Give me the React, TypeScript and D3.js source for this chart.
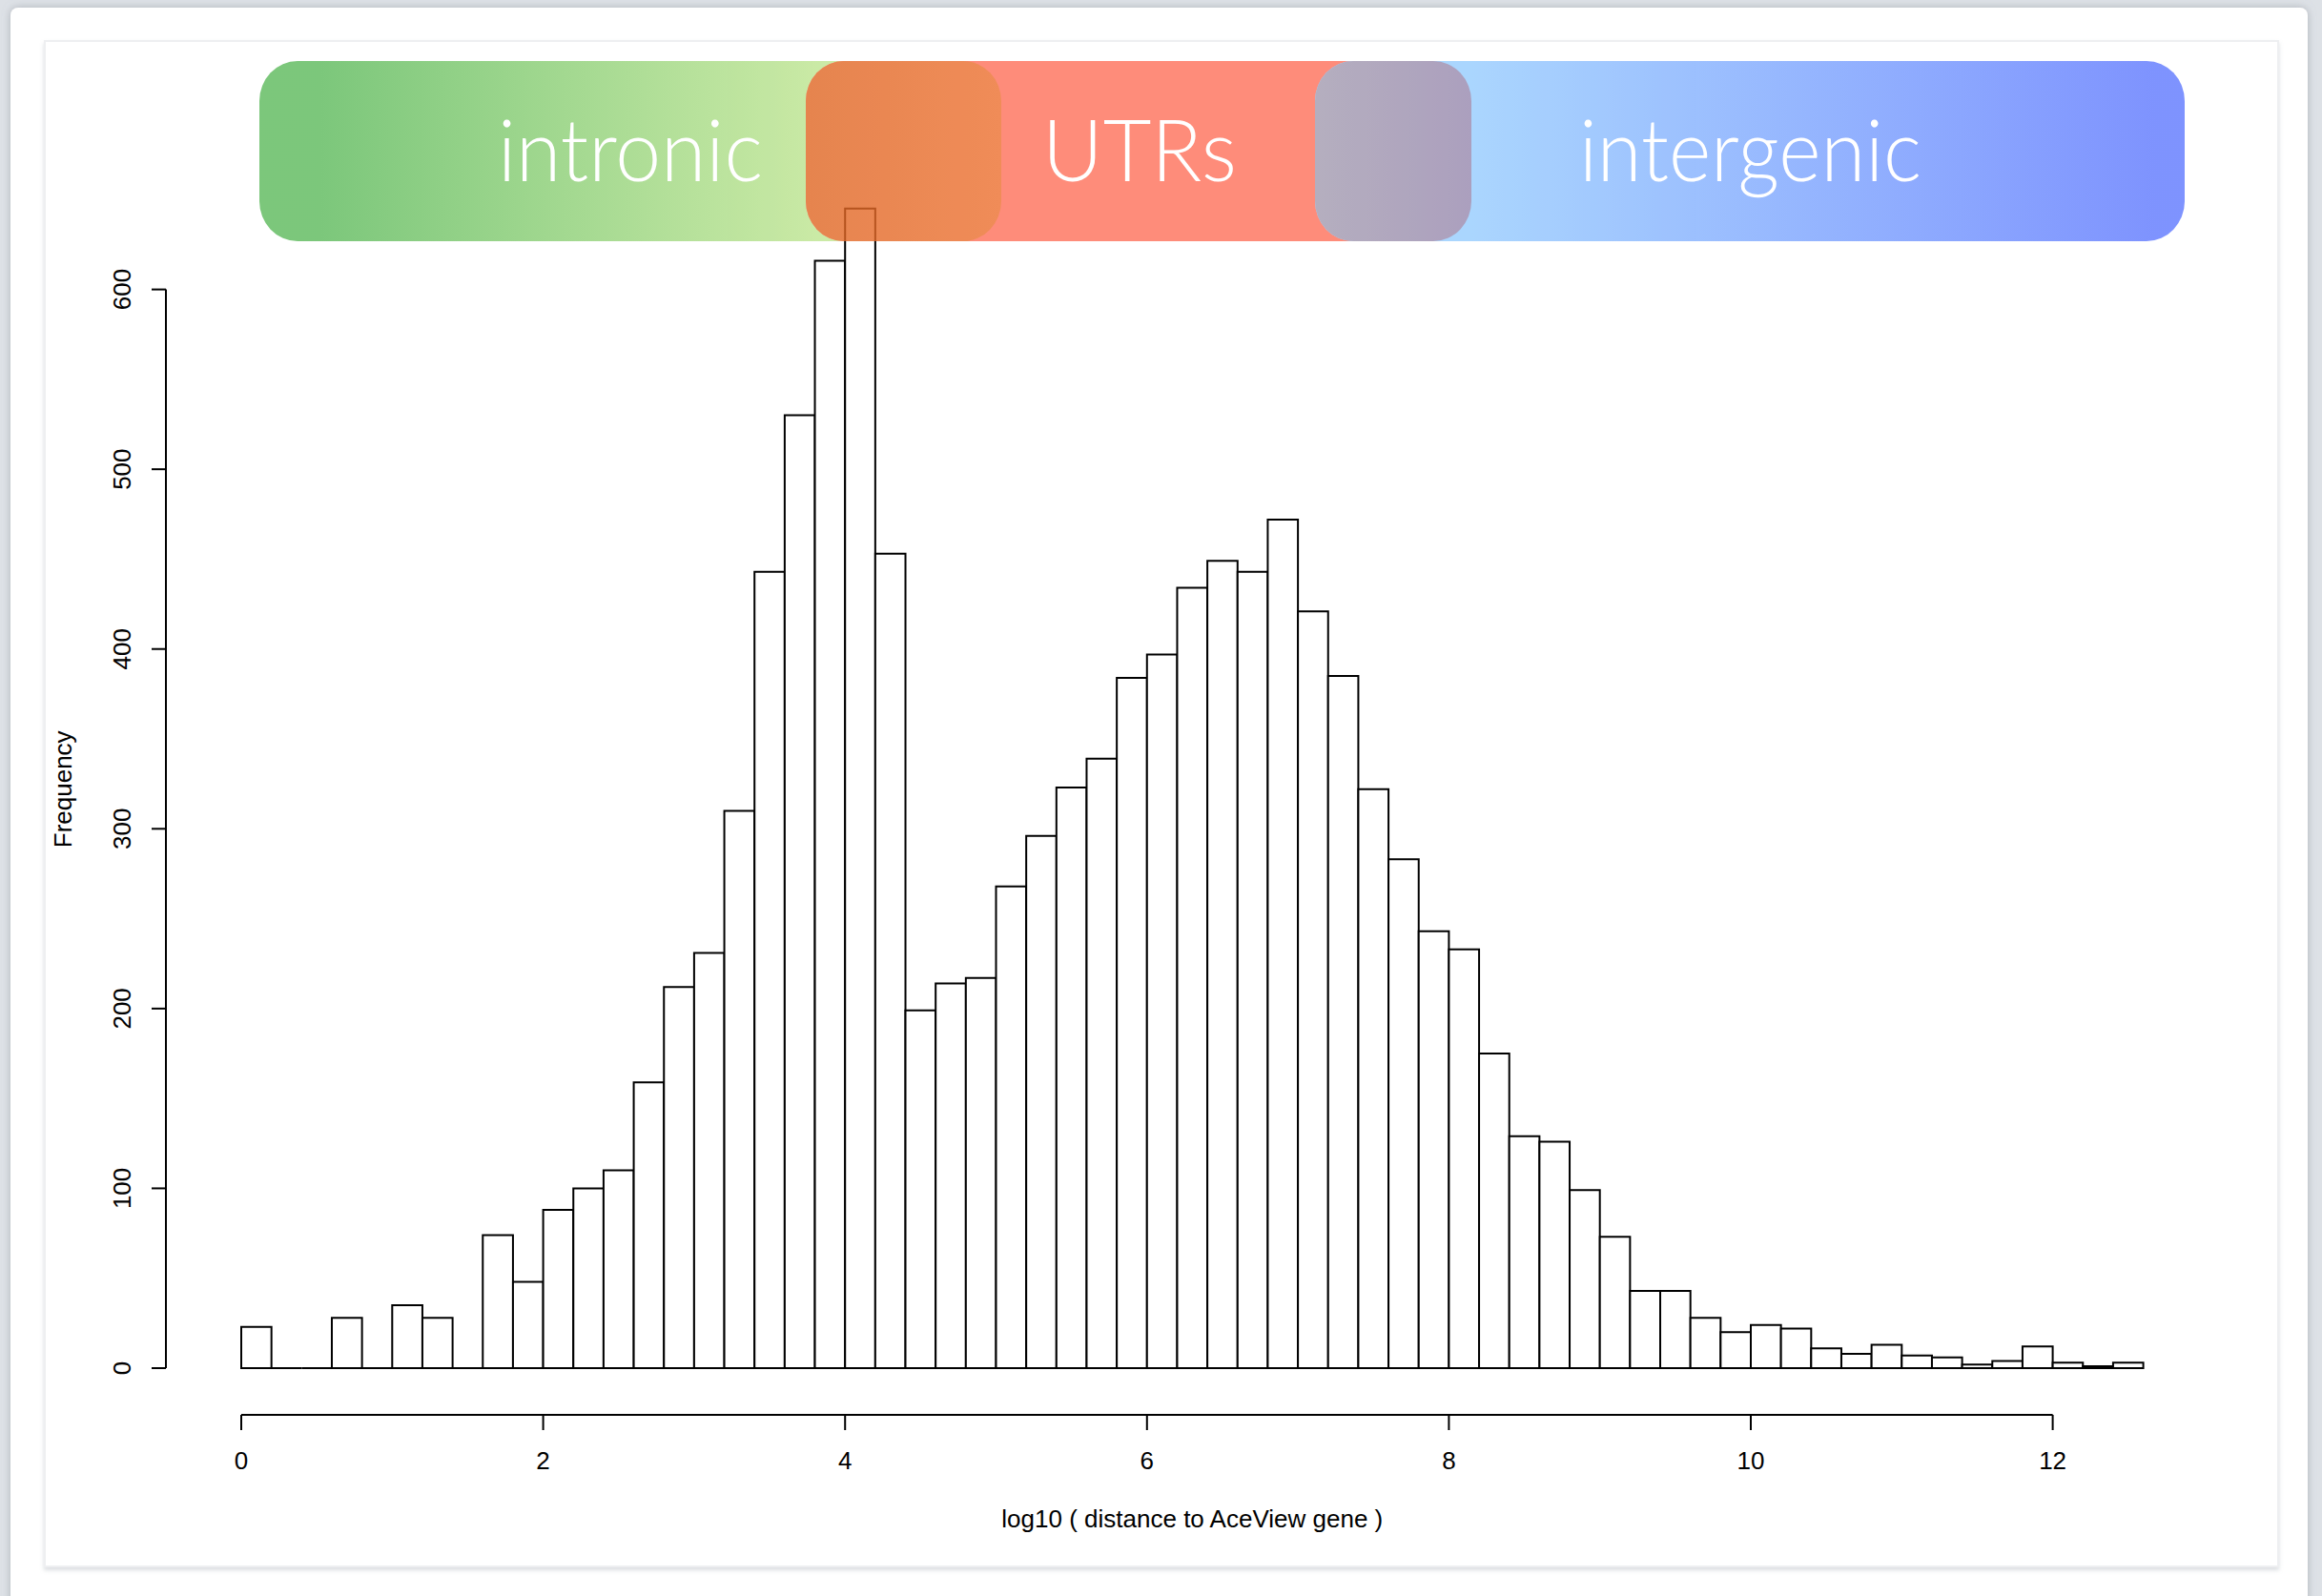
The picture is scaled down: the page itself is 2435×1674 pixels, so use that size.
import React from "react";
import * as d3 from "d3";

// ---- data ----
const binStarts = [
  0.0, 0.2, 0.4, 0.6, 0.8, 1.0, 1.2, 1.4, 1.6, 1.8, 2.0, 2.2, 2.4, 2.6, 2.8, 3.0,
  3.2, 3.4, 3.6, 3.8, 4.0, 4.2, 4.4, 4.6, 4.8, 5.0, 5.2, 5.4, 5.6, 5.8, 6.0, 6.2,
  6.4, 6.6, 6.8, 7.0, 7.2, 7.4, 7.6, 7.8, 8.0, 8.2, 8.4, 8.6, 8.8, 9.0, 9.2, 9.4,
  9.6, 9.8, 10.0, 10.2, 10.4, 10.6, 10.8, 11.0, 11.2, 11.4, 11.6, 11.8, 12.0, 12.2, 12.4,
];
const binWidth = 0.2;
const counts = [
  23, 0, 0, 28, 0, 35, 28, 0, 74, 48, 88, 100, 110, 159, 212, 231, 310, 443, 530, 616,
  645, 453, 199, 214, 217, 268, 296, 323, 339, 384, 397, 434, 449, 443, 472, 421, 385,
  322, 283, 243, 233, 175, 129, 126, 99, 73, 43, 43, 28, 20, 24, 22, 11, 8, 13, 7, 6, 2,
  4, 12, 3, 1, 3,
];
const xTicks = [0, 2, 4, 6, 8, 10, 12];
const yTicks = [0, 100, 200, 300, 400, 500, 600];
const xLabel = "log10 ( distance to AceView gene )";
const yLabel = "Frequency";
const bannerLabels = ["intronic", "UTRs", "intergenic"];

const W = 2435;
const H = 1674;

export default function App() {
  const x = d3.scaleLinear().domain([0, 12]).range([253, 2152.6]);
  const y = d3.scaleLinear().domain([0, 600]).range([1435, 303.6]);

  const axisFont = "'Liberation Sans', Arial, Helvetica, sans-serif";
  const bannerFont = "Lato, 'Open Sans', 'Noto Sans', sans-serif";

  const bTop = 64;
  const bH = 189;
  const rx = 40;
  const ry = 42;

  const barPath = (i: number) => {
    const p = d3.path();
    const x0 = x(binStarts[i]);
    const x1 = x(binStarts[i] + binWidth);
    const y0 = y(0);
    const y1 = y(counts[i]);
    p.moveTo(x0, y0);
    p.lineTo(x0, y1);
    p.lineTo(x1, y1);
    p.lineTo(x1, y0);
    p.closePath();
    return p.toString();
  };

  return (
    <svg
      width={W}
      height={H}
      viewBox={`0 0 ${W} ${H}`}
      style={{ position: "absolute", left: 0, top: 0, display: "block" }}
    >
      <defs>
        <linearGradient id="gGreen" gradientUnits="userSpaceOnUse" x1={335} x2={870} y1={0} y2={0}>
          <stop offset="0" stopColor="#5bb95a" />
          <stop offset="1" stopColor="#c0e691" />
        </linearGradient>
        <linearGradient id="gOrange" gradientUnits="userSpaceOnUse" x1={845} x2={1050} y1={0} y2={0}>
          <stop offset="0" stopColor="#e06623" />
          <stop offset="1" stopColor="#ed702f" />
        </linearGradient>
        <linearGradient id="gPurple" gradientUnits="userSpaceOnUse" x1={1379} x2={1543} y1={0} y2={0}>
          <stop offset="0" stopColor="#a39bb0" />
          <stop offset="1" stopColor="#9788ae" />
        </linearGradient>
        <linearGradient id="gBlue" gradientUnits="userSpaceOnUse" x1={1543} x2={2260} y1={0} y2={0}>
          <stop offset="0" stopColor="#96ccfe" />
          <stop offset="1" stopColor="#5e78fe" />
        </linearGradient>
        <filter id="slideShadow" x="-5%" y="-5%" width="110%" height="110%">
          <feDropShadow dx="0" dy="0" stdDeviation="4" floodColor="#8a9099" floodOpacity="0.55" />
        </filter>
        <filter id="panelShadow" x="-2%" y="-2%" width="104%" height="104%">
          <feDropShadow dx="0" dy="3" stdDeviation="2" floodColor="#9aa2ad" floodOpacity="0.35" />
        </filter>
      </defs>

      {/* page background and slide */}
      <rect x={0} y={0} width={W} height={H} fill="#dde1e6" />
      <rect x={11} y={8} width={2409} height={H + 20} rx={8} fill="#ffffff" filter="url(#slideShadow)" />
      <rect
        x={47}
        y={43}
        width={2342}
        height={1600}
        fill="#ffffff"
        stroke="#eeeff1"
        strokeWidth={2}
        filter="url(#panelShadow)"
      />

      {/* histogram bars */}
      <g fill="#ffffff" stroke="#000000" strokeWidth={2}>
        {counts.map((c, i) => (
          <path key={i} d={barPath(i)} />
        ))}
      </g>

      {/* y axis */}
      <g stroke="#000" strokeWidth={2} fill="none">
        <line x1={174} x2={174} y1={y(0)} y2={y(600)} />
        {yTicks.map((t) => (
          <line key={t} x1={159} x2={174} y1={y(t)} y2={y(t)} />
        ))}
      </g>
      {yTicks.map((t) => (
        <text
          key={t}
          transform={`translate(137, ${y(t)}) rotate(-90)`}
          textAnchor="middle"
          fontFamily={axisFont}
          fontSize={26}
          fill="#000"
        >
          {t}
        </text>
      ))}
      <text
        transform={`translate(75, ${y(322)}) rotate(-90)`}
        textAnchor="middle"
        fontFamily={axisFont}
        fontSize={26}
        fill="#000"
      >
        {yLabel}
      </text>

      {/* x axis */}
      <g stroke="#000" strokeWidth={2} fill="none">
        <line x1={x(0)} x2={x(12)} y1={1484} y2={1484} />
        {xTicks.map((t) => (
          <line key={t} x1={x(t)} x2={x(t)} y1={1484} y2={1500} />
        ))}
      </g>
      {xTicks.map((t) => (
        <text
          key={t}
          x={x(t)}
          y={1541}
          textAnchor="middle"
          fontFamily={axisFont}
          fontSize={26}
          fill="#000"
        >
          {t}
        </text>
      ))}
      <text
        x={x(6.3)}
        y={1602}
        textAnchor="middle"
        fontFamily={axisFont}
        fontSize={26}
        fill="#000"
      >
        {xLabel}
      </text>

      {/* banner */}
      <g opacity={0.8}>
        <rect x={272} y={bTop} width={1050 - 272} height={bH} rx={rx} ry={ry} fill="url(#gGreen)" />
        <rect x={845} y={bTop} width={1543 - 845} height={bH} rx={rx} ry={ry} fill="#fe705a" />
        <rect x={1379} y={bTop} width={2291 - 1379} height={bH} rx={rx} ry={ry} fill="url(#gBlue)" />
        <rect x={845} y={bTop} width={1050 - 845} height={bH} rx={rx} ry={ry} fill="url(#gOrange)" />
        <rect x={1379} y={bTop} width={1543 - 1379} height={bH} rx={rx} ry={ry} fill="url(#gPurple)" />
      </g>
      <g fill="#ffffff" fontFamily={bannerFont} fontWeight={300} fontSize={90}>
        <text x={522} y={190} textLength={278} lengthAdjust="spacingAndGlyphs">
          {bannerLabels[0]}
        </text>
        <text x={1093} y={190} textLength={204} lengthAdjust="spacingAndGlyphs">
          {bannerLabels[1]}
        </text>
        <text x={1656} y={190} textLength={359} lengthAdjust="spacingAndGlyphs">
          {bannerLabels[2]}
        </text>
      </g>
    </svg>
  );
}
